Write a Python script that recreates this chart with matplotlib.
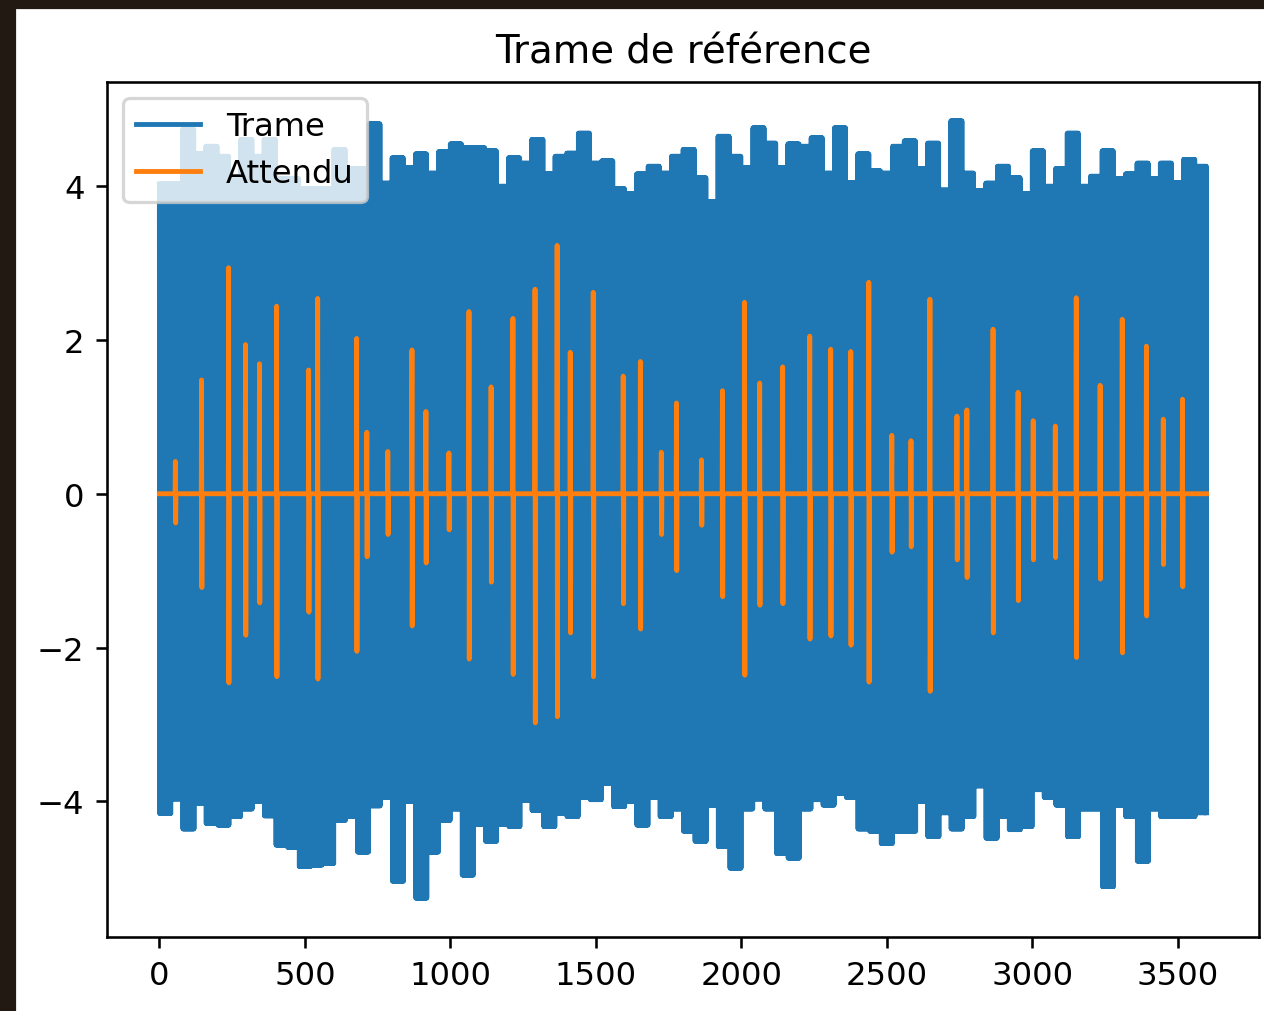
import numpy as np
import matplotlib
matplotlib.use("Agg")
import matplotlib.pyplot as plt
from matplotlib.patches import Rectangle

# nombre d'echantillons de la trame
n_ech = 3600
bloc = 40  # chaque valeur d'enveloppe couvre 40 echantillons

# enveloppe haute de la trame (un point par bloc de 40)
trame_haut = [4.03, 4.03, 4.74, 4.42, 4.52, 4.39, 4.13, 4.61, 4.39, 4.61,
              4.10, 4.10, 3.97, 3.97, 3.97, 4.48, 4.23, 4.23, 4.81, 4.04,
              4.37, 4.24, 4.42, 4.17, 4.45, 4.55, 4.50, 4.50, 4.46, 4.00,
              4.37, 4.30, 4.61, 4.16, 4.39, 4.43, 4.69, 4.30, 4.33, 3.97,
              3.90, 4.16, 4.26, 4.17, 4.39, 4.48, 4.11, 3.80, 4.65, 4.39,
              4.24, 4.76, 4.56, 4.24, 4.55, 4.52, 4.63, 4.17, 4.76, 4.05,
              4.42, 4.20, 4.17, 4.52, 4.59, 4.23, 4.56, 3.95, 4.85, 4.17,
              3.94, 4.04, 4.26, 4.11, 3.90, 4.46, 4.00, 4.23, 4.69, 4.00,
              4.13, 4.46, 4.10, 4.16, 4.30, 4.10, 4.30, 4.05, 4.35, 4.26]

# enveloppe basse de la trame
trame_bas = [-4.16, -3.97, -4.36, -4.03, -4.29, -4.31, -4.20, -4.10, -4.00, -4.19,
             -4.57, -4.60, -4.85, -4.83, -4.81, -4.25, -4.20, -4.66, -4.06, -3.95,
             -5.04, -4.00, -5.26, -4.66, -4.25, -4.10, -4.96, -4.30, -4.52, -4.30,
             -4.33, -3.99, -4.12, -4.33, -4.16, -4.20, -3.95, -3.98, -3.77, -4.07,
             -4.00, -4.31, -3.95, -4.20, -4.10, -4.39, -4.52, -4.05, -4.59, -4.87,
             -4.10, -3.97, -4.10, -4.68, -4.74, -4.10, -3.98, -4.05, -3.90, -3.95,
             -4.36, -4.39, -4.55, -4.39, -4.39, -4.00, -4.46, -4.15, -4.36, -4.20,
             -3.80, -4.48, -4.20, -4.37, -4.33, -3.85, -3.95, -4.05, -4.46, -4.10,
             -4.10, -5.11, -4.05, -4.20, -4.78, -4.10, -4.20, -4.20, -4.20, -4.15]

# impulsions attendues : position, valeur haute, valeur basse
pic_pos = [55, 145, 238, 296, 344, 403, 513, 544, 678, 713,
           785, 868, 916, 995, 1064, 1140, 1215, 1291, 1367, 1412,
           1491, 1594, 1653, 1725, 1777, 1863, 1935, 2011, 2063, 2142,
           2235, 2307, 2376, 2438, 2517, 2583, 2648, 2741, 2775, 2865,
           2951, 3003, 3079, 3151, 3233, 3309, 3392, 3450, 3516]
pic_haut = [0.42, 1.48, 2.94, 1.94, 1.69, 2.44, 1.61, 2.54, 2.02, 0.80,
            0.55, 1.87, 1.07, 0.53, 2.37, 1.39, 2.28, 2.66, 3.23, 1.84,
            2.62, 1.53, 1.72, 0.54, 1.18, 0.44, 1.34, 2.49, 1.44, 1.65,
            2.05, 1.88, 1.85, 2.75, 0.76, 0.69, 2.53, 1.01, 1.09, 2.14,
            1.32, 0.95, 0.88, 2.55, 1.41, 2.27, 1.92, 0.97, 1.23]
pic_bas = [-0.38, -1.22, -2.46, -1.84, -1.42, -2.38, -1.54, -2.41, -2.05, -0.82,
           -0.53, -1.72, -0.90, -0.47, -2.15, -1.15, -2.35, -2.98, -2.90, -1.81,
           -2.38, -1.43, -1.76, -0.53, -1.00, -0.41, -1.34, -2.36, -1.45, -1.43,
           -1.89, -1.85, -1.97, -2.45, -0.76, -0.69, -2.57, -0.86, -1.09, -1.81,
           -1.39, -0.86, -0.83, -2.13, -1.11, -2.07, -1.59, -0.92, -1.21]

# la trame alterne entre l'enveloppe haute et basse
haut = np.repeat(trame_haut, bloc)
bas = np.repeat(trame_bas, bloc)
idx = np.arange(n_ech)
trame = np.where(idx % 2 == 0, haut, bas)

attendu = np.zeros(n_ech)
for p, h, b in zip(pic_pos, pic_haut, pic_bas):
    attendu[p] = h
    attendu[p + 1] = b

W, H, dpi = 1264, 1012, 232
fig = plt.figure(figsize=(W / dpi, H / dpi), dpi=dpi)
ax = fig.add_axes([107 / W, 1 - 938 / H, 1152 / W, 855 / H])

ax.plot(idx, trame, label="Trame")
ax.plot(idx, attendu, label="Attendu")
ax.set_title("Trame de référence")
ax.legend(loc="upper left")

# bord sombre de la capture d'ecran
fig.patches.append(Rectangle((0, 0), 14 / W, 1, transform=fig.transFigure,
                             color="#221a12", zorder=0))
fig.patches.append(Rectangle((0, 1 - 8 / H), 1, 8 / H, transform=fig.transFigure,
                             color="#221a12", zorder=0))

fig.savefig("out.png", dpi=dpi)
